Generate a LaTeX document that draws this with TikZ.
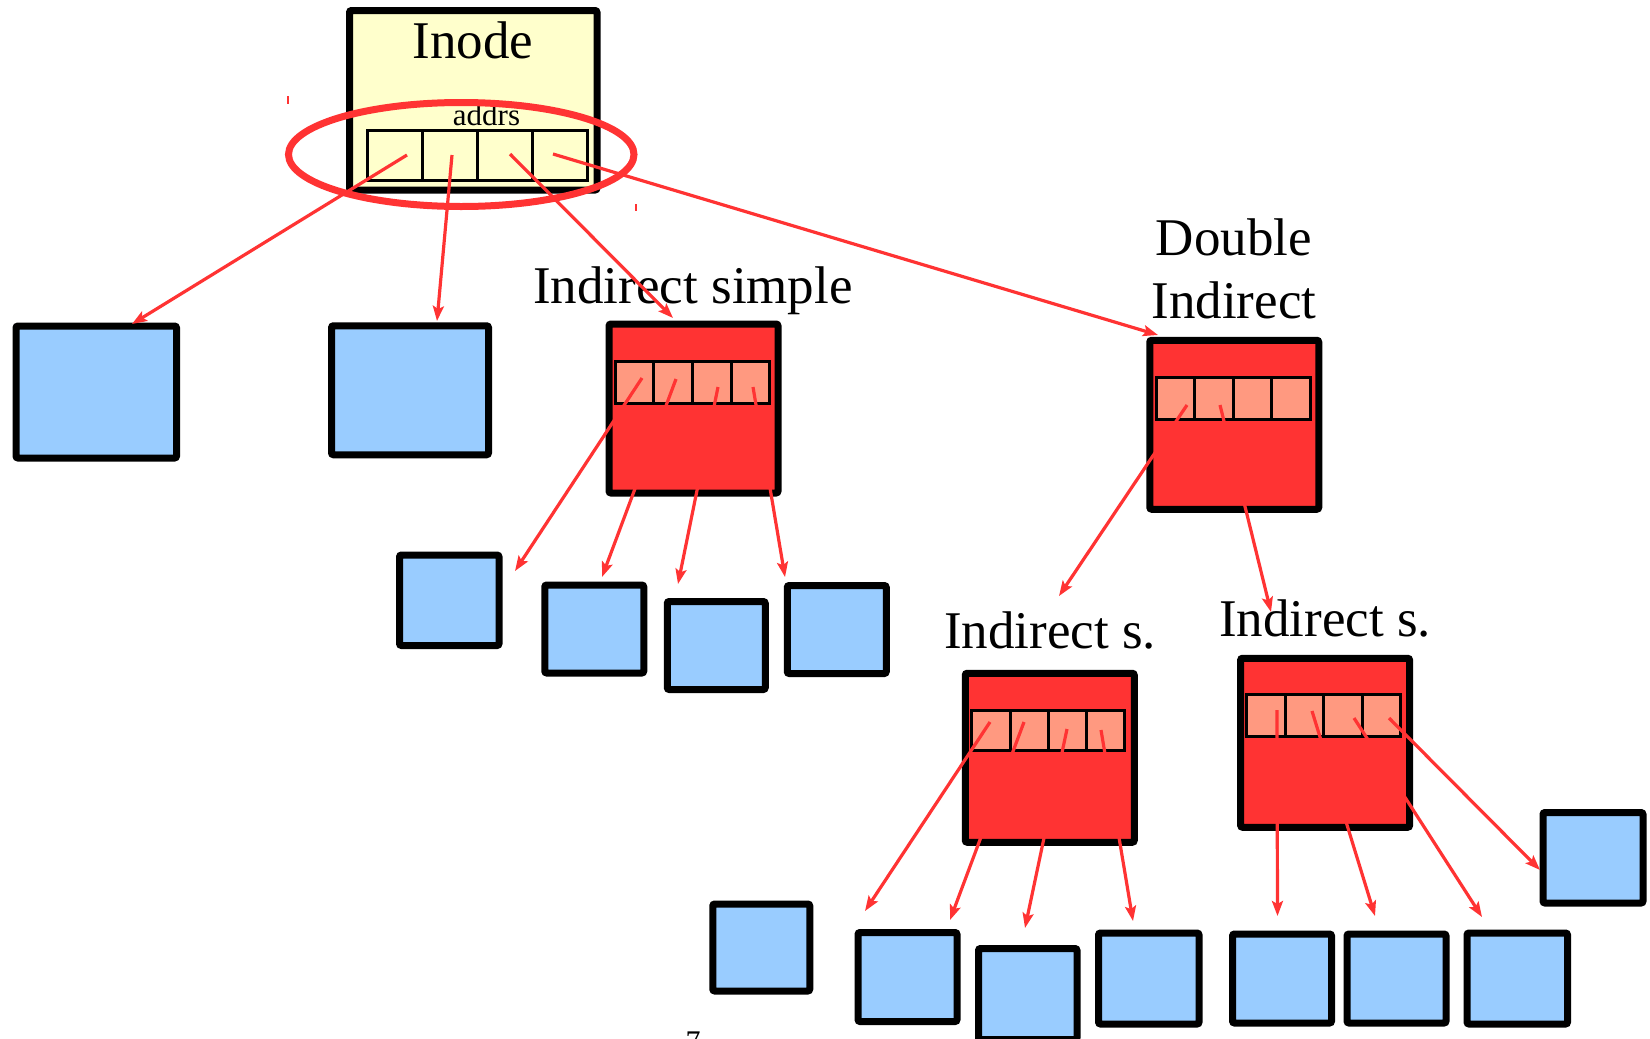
\documentclass[tikz,border=0pt]{standalone}
\usepackage{fontspec}
\setmainfont{Liberation Serif}
\usetikzlibrary{arrows.meta,shapes.geometric}
\definecolor{redc}{HTML}{FF3333}
\definecolor{salmonc}{HTML}{FF9980}
\definecolor{yellowc}{HTML}{FFFFCC}
\definecolor{bluec}{HTML}{99CCFF}
\begin{document}
\begin{tikzpicture}[x=1pt,y=-1pt,
  bluebox/.style={draw=black, fill=bluec, line width=7pt, rounded corners=2pt, inner sep=0pt},
  redbox/.style={draw=black, fill=redc, line width=7pt, rounded corners=2pt, inner sep=0pt, minimum width=169pt, minimum height=169pt},
  inodebox/.style={draw=black, fill=yellowc, line width=7pt, rounded corners=2pt, inner sep=0pt},
  icell/.style={draw=black, fill=yellowc, line width=3pt, inner sep=0pt, minimum width=55pt, minimum height=50pt},
  rcell/.style={draw=black, fill=salmonc, line width=3pt, inner sep=0pt, minimum width=38.5pt, minimum height=41.5pt},
  ptr/.style={draw=redc, line width=3.2pt, -{Stealth[length=15pt,width=11pt,inset=3pt]}},
  bigtext/.style={font=\fontsize{53}{63.3}\selectfont, inner sep=0pt, anchor=base},
]
\useasboundingbox (0,0) rectangle (1650,1039);

% Inode
\node[inodebox, minimum width=247.5pt, minimum height=179.5pt] (inode) at (473.25,100.25) {};
\node[bigtext] (inodelbl) at (473,58) {Inode};
\node[font=\fontsize{31}{36}\selectfont, inner sep=0pt, anchor=base] (addrs) at (486.5,125) {addrs};
\node[icell] (ic1) at (394.5,155) {};
\node[icell] (ic2) at (449.5,155) {};
\node[icell] (ic3) at (504.5,155) {};
\node[icell] (ic4) at (559.5,155) {};
\node[draw=redc, line width=7pt, ellipse, minimum width=345.5pt, minimum height=104pt, inner sep=0pt] (ring) at (461.25,154.5) {};
\draw[redc, line width=1.5pt] (288,96) -- (288,104) (636,204) -- (636,211);

% level 1 data blocks
\node[bluebox, minimum width=160.5pt, minimum height=132pt] (b1) at (96.25,392) {};
\node[bluebox, minimum width=157pt, minimum height=129pt] (b2) at (410,390.25) {};

% Indirect simple
\node[bigtext] (islbl) at (693,303) {Indirect simple};
\node[redbox] (is) at (693.5,408.5) {};
\node[rcell, minimum width=38.75pt, minimum height=41.3pt] (is1) at (634.4,382.4) {};
\node[rcell, minimum width=38.75pt, minimum height=41.3pt] (is2) at (673.1,382.4) {};
\node[rcell, minimum width=38.75pt, minimum height=41.3pt] (is3) at (711.9,382.4) {};
\node[rcell, minimum width=38.75pt, minimum height=41.3pt] (is4) at (750.6,382.4) {};

% level 2 data blocks
\node[bluebox, minimum width=99.5pt, minimum height=90.5pt] (s1) at (449.25,600.25) {};
\node[bluebox, minimum width=99pt, minimum height=88pt] (s2) at (594.25,629) {};
\node[bluebox, minimum width=98pt, minimum height=88pt] (s3) at (716.25,645.5) {};
\node[bluebox, minimum width=99pt, minimum height=88pt] (s4) at (836.75,629.5) {};

% Double indirect
\node[bigtext, align=center] (dilbl) at (1234,318.3) {Double\\Indirect};
\node[redbox] (di) at (1234.25,424.75) {};
\node[rcell] (di1) at (1175.25,398.3) {};
\node[rcell] (di2) at (1213.75,398.3) {};
\node[rcell] (di3) at (1252.25,398.3) {};
\node[rcell] (di4) at (1290.75,398.3) {};

% Indirect s. (left)
\node[bigtext] (llbl) at (1050,648) {Indirect s.};
\node[redbox] (lb) at (1049.75,757.75) {};
\node[rcell, minimum width=38.3pt, minimum height=40.7pt] (l1) at (990.9,730.4) {};
\node[rcell, minimum width=38.3pt, minimum height=40.7pt] (l2) at (1029.2,730.4) {};
\node[rcell, minimum width=38.3pt, minimum height=40.7pt] (l3) at (1067.5,730.4) {};
\node[rcell, minimum width=38.3pt, minimum height=40.7pt] (l4) at (1105.8,730.4) {};

% Indirect s. (right)
\node[bigtext] (rlbl) at (1325,636) {Indirect s.};
\node[redbox] (rb) at (1325.1,742.75) {};
\node[rcell, minimum height=41.7pt] (r1) at (1266,715.8) {};
\node[rcell, minimum height=41.7pt] (r2) at (1304.5,715.8) {};
\node[rcell, minimum height=41.7pt] (r3) at (1343,715.8) {};
\node[rcell, minimum height=41.7pt] (r4) at (1381.5,715.8) {};

% level 3 data blocks
\node[bluebox, minimum width=97pt, minimum height=87pt] (t1) at (761.25,947.5) {};
\node[bluebox, minimum width=99pt, minimum height=89pt] (t2) at (907.5,977) {};
\node[bluebox, minimum width=98.5pt, minimum height=91pt] (t3) at (1027.75,994) {};
\node[bluebox, minimum width=100.5pt, minimum height=91pt] (t4) at (1148.75,978.5) {};
\node[bluebox, minimum width=99pt, minimum height=89pt] (t5) at (1282,978.5) {};
\node[bluebox, minimum width=99pt, minimum height=89pt] (t6) at (1396.5,978.5) {};
\node[bluebox, minimum width=100.5pt, minimum height=91pt] (t7) at (1517.25,978.5) {};
\node[bluebox, minimum width=100pt, minimum height=90.5pt] (t8) at (1593,857.75) {};

\node[font=\fontsize{30}{36}\selectfont, inner sep=0pt, anchor=base] (pageno) at (693,1051) {7};

% pointer start and end points
\coordinate (p1s) at (407,155);   \coordinate (p1e) at (132,324);
\coordinate (p2s) at (452,155);   \coordinate (p2e) at (437,321);
\coordinate (p3s) at (510,154);   \coordinate (p3e) at (673,318);
\coordinate (p4s) at (553,154);   \coordinate (p4e) at (1158,335);
\coordinate (a1s) at (642,378);   \coordinate (a1e) at (515,571);
\coordinate (a2s) at (676,379);   \coordinate (a2e) at (602,577);
\coordinate (a3s) at (718,387);   \coordinate (a3e) at (678,584);
\coordinate (a4s) at (753,387);   \coordinate (a4e) at (785,577);
\coordinate (d1s) at (1187,405);  \coordinate (d1e) at (1059,596);
\coordinate (d2s) at (1220,405);  \coordinate (d2e) at (1271,612);
\coordinate (e1s) at (990,722);   \coordinate (e1e) at (865,911);
\coordinate (e2s) at (1024,722);  \coordinate (e2e) at (950,920);
\coordinate (e3s) at (1067,729);  \coordinate (e3e) at (1025,928);
\coordinate (e4s) at (1101,730);  \coordinate (e4e) at (1133,921);
\coordinate (f1s) at (1277,710);  \coordinate (f1e) at (1277.5,916);
\coordinate (f2s) at (1312,711);  \coordinate (f2e) at (1375,916);
\coordinate (f3s) at (1354,718);  \coordinate (f3e) at (1482,917);
\coordinate (f4s) at (1389,718);  \coordinate (f4e) at (1540,870);

\foreach \n in {p1,p2,p3,p4,a1,a2,a3,a4,d1,d2,e1,e2,e3,e4,f1,f2,f3,f4}
  \draw[ptr] (\n s) -- (\n e);
\end{tikzpicture}
\end{document}
